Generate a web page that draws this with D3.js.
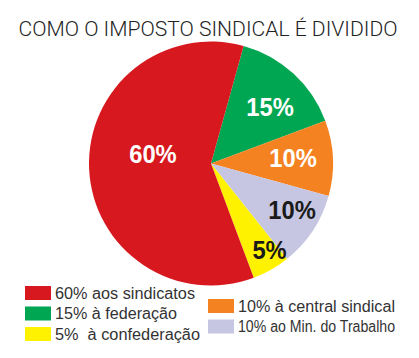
<!DOCTYPE html>
<html><head><meta charset="utf-8">
<script src="https://cdn.jsdelivr.net/npm/d3@7"></script>
<style>body{margin:0;background:#fff}svg{display:block}</style>
</head><body>
<script>
const title = "COMO O IMPOSTO SINDICAL É DIVIDIDO";
const categories = ["à federação","à central sindical","ao Min. do Trabalho","à confederação","aos sindicatos"];
const values = [15, 10, 10, 5, 60];
const sliceLabels = ["15%","10%","10%","5%","60%"];
const legendLabels = ["60% aos sindicatos","15% à federação","5%  à confederação","10% à central sindical","10% ao Min. do Trabalho"];
const legendKeys = [4, 0, 3, 1, 2];

// styling / layout (not data)
const colors = ["#00a651","#f58220","#c6c6e2","#fff200","#d7191f"];
const labelColors = ["#fff","#fff","#1a1a1a","#1a1a1a","#fff"];
const labelRadiusFrac = [0.67, 0.674, 0.766, 0.856, 0.482];
const labelAngleShift = [3.7, -1.3, -3.6, -4.6, 11.8];
const legPos = [[25,286],[25,306.5],[25,327],[208,299],[208,319.5]];
const legTextLen = [140, 122, 145, 157, 157];

const W = 419, H = 358;
const svg = d3.select("body").append("svg").attr("width", W).attr("height", H);

svg.append("text").attr("x", 208).attr("y", 36).attr("text-anchor","middle")
  .attr("font-family","Roboto, 'Liberation Sans', sans-serif").attr("font-weight",300)
  .attr("font-size",21).attr("fill","#222").attr("textLength",379).attr("lengthAdjust","spacingAndGlyphs")
  .text(title);

const cx = 211, cy = 163.5, r = 122;
const start = 15.5 * Math.PI / 180;
const pie = d3.pie().sort(null).startAngle(start).endAngle(start + 2*Math.PI);
const arcs = pie(values);
const arc = d3.arc().innerRadius(0).outerRadius(r);
const g = svg.append("g").attr("transform", `translate(${cx},${cy})`);
g.selectAll("path").data(arcs).join("path").attr("d", arc).attr("fill", (d,i)=>colors[i]);

g.selectAll("text").data(arcs).join("text")
  .attr("transform", (d,i)=>{
    const a = (d.startAngle + d.endAngle)/2 + labelAngleShift[i]*Math.PI/180;
    const rr = r*labelRadiusFrac[i];
    return `translate(${Math.sin(a)*rr},${-Math.cos(a)*rr}) scale(0.95,1)`;
  })
  .attr("text-anchor","middle").attr("dy","0.36em")
  .attr("font-family","'Liberation Sans', Arial, sans-serif").attr("font-weight","bold")
  .attr("font-size",25)
  .attr("fill",(d,i)=>labelColors[i])
  .text((d,i)=>sliceLabels[i]);

const leg = svg.append("g");
legendLabels.forEach((t,j)=>{
  const [x,y] = legPos[j];
  leg.append("rect").attr("x",x).attr("y",y).attr("width",26).attr("height",14).attr("fill",colors[legendKeys[j]]);
  leg.append("text").attr("x",x+30).attr("y",y+12.5)
    .attr("font-family","'Liberation Sans', Arial, sans-serif").attr("font-size",16).attr("fill","#333")
    .attr("textLength",legTextLen[j]).attr("lengthAdjust","spacingAndGlyphs")
    .style("white-space","pre")
    .text(t);
});
</script>
</body></html>
